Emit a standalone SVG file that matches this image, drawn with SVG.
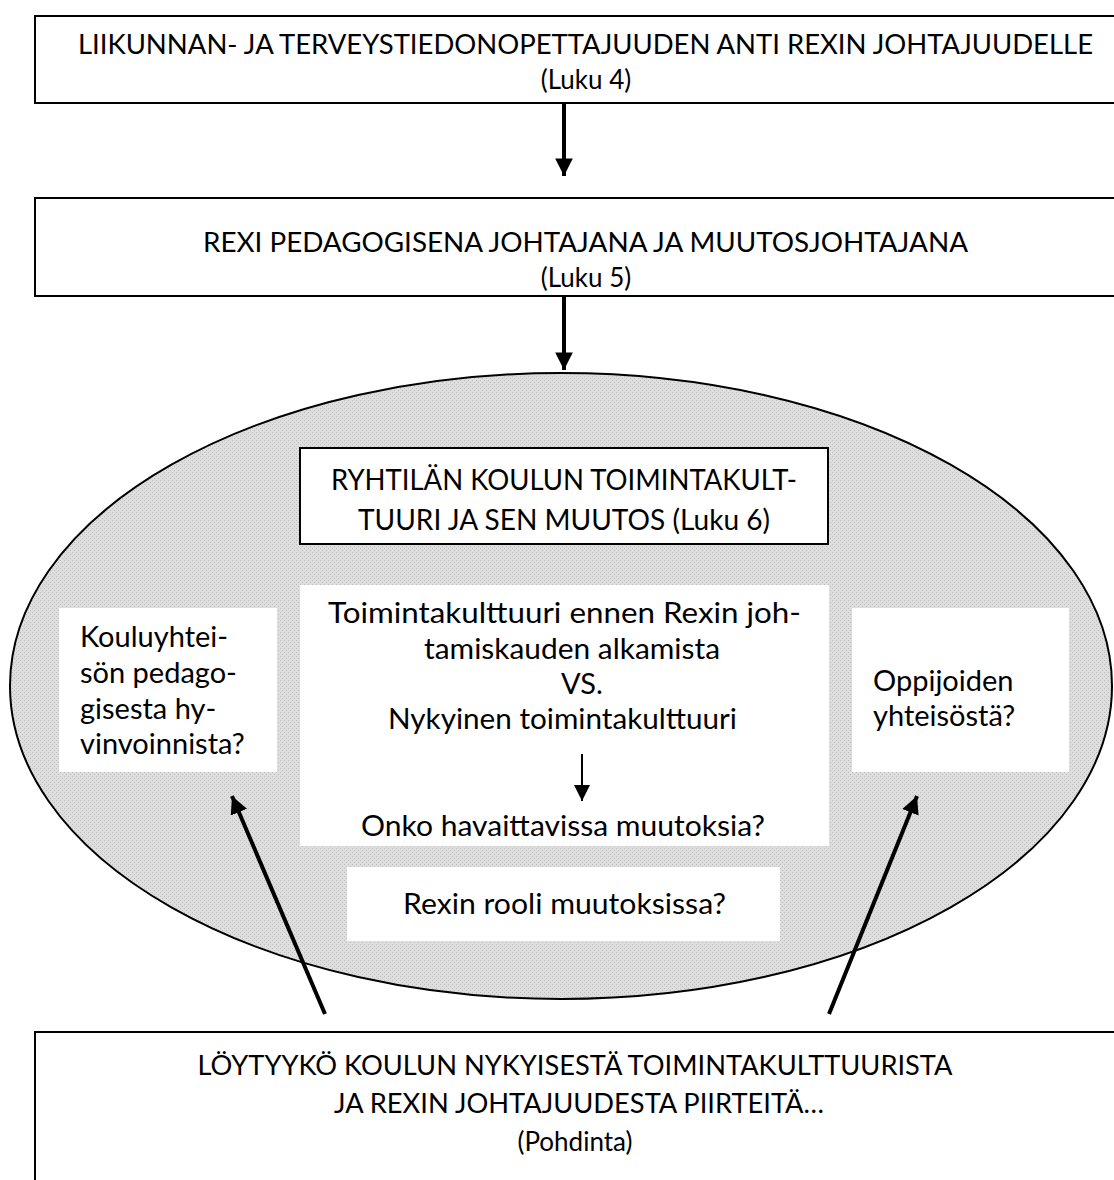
<svg xmlns="http://www.w3.org/2000/svg" width="1114" height="1180" viewBox="0 0 1114 1180">
  <style>
    .box{fill:#fff;stroke:#000;stroke-width:2}
    .wbox{fill:#fff;stroke:none}
    .t{font-family:Lato,"Open Sans","Liberation Sans",sans-serif;font-size:26px;fill:#000}
    .i{font-size:29px}
    .c{text-anchor:middle}
    .conn{stroke:#000;fill:none}
  </style>
  <defs>
    <pattern id="dots" width="4" height="4" patternUnits="userSpaceOnUse">
      <rect width="4" height="4" fill="#dedede"/>
      <rect x="0" y="0" width="1" height="1" fill="#bdbdbd"/>
      <rect x="2" y="2" width="1" height="1" fill="#bdbdbd"/>
    </pattern>
    <marker id="ah" viewBox="0 0 10 10" refX="10" refY="5" markerWidth="4.4" markerHeight="4.4" orient="auto" markerUnits="strokeWidth">
      <path d="M0,0 L10,5 L0,10 Z" fill="#000"/>
    </marker>
    <marker id="ahs" viewBox="0 0 10 10" refX="10" refY="5" markerWidth="8" markerHeight="8" orient="auto" markerUnits="strokeWidth">
      <path d="M0,0 L10,5 L0,10 Z" fill="#000"/>
    </marker>
  </defs>

  <g id="ellipse-area">
    <ellipse cx="561" cy="686" rx="551" ry="313" fill="url(#dots)" stroke="#000" stroke-width="2"/>
  </g>

  <g id="node-top">
    <rect class="box" x="35" y="16" width="1100" height="87"/>
    <text class="t c" x="585.5" y="54" textLength="1015" lengthAdjust="spacingAndGlyphs">LIIKUNNAN- JA TERVEYSTIEDONOPETTAJUUDEN ANTI REXIN JOHTAJUUDELLE</text>
    <text class="t c" x="586" y="89">(Luku 4)</text>
  </g>

  <g id="node-rexi">
    <rect class="box" x="35" y="198" width="1100" height="98"/>
    <text class="t c" x="585.5" y="252" textLength="765" lengthAdjust="spacingAndGlyphs">REXI PEDAGOGISENA JOHTAJANA JA MUUTOSJOHTAJANA</text>
    <text class="t c" x="586" y="287">(Luku 5)</text>
  </g>

  <g id="node-ryhtila">
    <rect class="box" x="300" y="448" width="528" height="96"/>
    <text class="t i c" x="564" y="490" textLength="466" lengthAdjust="spacingAndGlyphs">RYHTILÄN KOULUN TOIMINTAKULT-</text>
    <text class="t i c" x="564" y="530" textLength="412" lengthAdjust="spacingAndGlyphs">TUURI JA SEN MUUTOS (Luku 6)</text>
  </g>

  <g id="node-center">
    <rect class="wbox" x="300" y="585" width="529" height="261"/>
    <text class="t i c" x="564.5" y="623" textLength="473" lengthAdjust="spacingAndGlyphs">Toimintakulttuuri ennen Rexin joh-</text>
    <text class="t i c" x="572" y="659" textLength="296" lengthAdjust="spacingAndGlyphs">tamiskauden alkamista</text>
    <text class="t i c" x="582" y="694">VS.</text>
    <text class="t i c" x="562.5" y="729" textLength="349" lengthAdjust="spacingAndGlyphs">Nykyinen toimintakulttuuri</text>
    <text class="t i c" x="563" y="836" textLength="404" lengthAdjust="spacingAndGlyphs">Onko havaittavissa muutoksia?</text>
  </g>

  <g id="node-left">
    <rect class="wbox" x="59" y="608" width="218" height="164"/>
    <text class="t i" x="80" y="647">Kouluyhtei-</text>
    <text class="t i" x="80" y="683">sön pedago-</text>
    <text class="t i" x="80" y="719">gisesta hy-</text>
    <text class="t i" x="80" y="754">vinvoinnista?</text>
  </g>

  <g id="node-right">
    <rect class="wbox" x="852" y="608" width="217" height="164"/>
    <text class="t i" x="873" y="691">Oppijoiden</text>
    <text class="t i" x="873" y="726">yhteisöstä?</text>
  </g>

  <g id="node-rooli">
    <rect class="wbox" x="347" y="867" width="433" height="74"/>
    <text class="t i c" x="564.5" y="914" textLength="323" lengthAdjust="spacingAndGlyphs">Rexin rooli muutoksissa?</text>
  </g>

  <g id="node-bottom">
    <rect class="box" x="35" y="1032" width="1100" height="170"/>
    <text class="t c" x="575" y="1075" textLength="755" lengthAdjust="spacingAndGlyphs">LÖYTYYKÖ KOULUN NYKYISESTÄ TOIMINTAKULTTUURISTA</text>
    <text class="t c" x="579" y="1113" textLength="490" lengthAdjust="spacingAndGlyphs">JA REXIN JOHTAJUUDESTA PIIRTEITÄ…</text>
    <text class="t c" x="575" y="1151">(Pohdinta)</text>
  </g>

  <g id="connectors">
    <line class="conn" x1="564" y1="103" x2="564" y2="176" stroke-width="4" marker-end="url(#ah)"/>
    <line class="conn" x1="564" y1="296" x2="564" y2="370" stroke-width="4" marker-end="url(#ah)"/>
    <line class="conn" x1="582" y1="754" x2="582" y2="801" stroke-width="2" marker-end="url(#ahs)"/>
    <line class="conn" x1="325" y1="1014" x2="232" y2="796" stroke-width="4" marker-end="url(#ah)"/>
    <line class="conn" x1="829" y1="1014" x2="917" y2="796" stroke-width="4" marker-end="url(#ah)"/>
  </g>
</svg>
